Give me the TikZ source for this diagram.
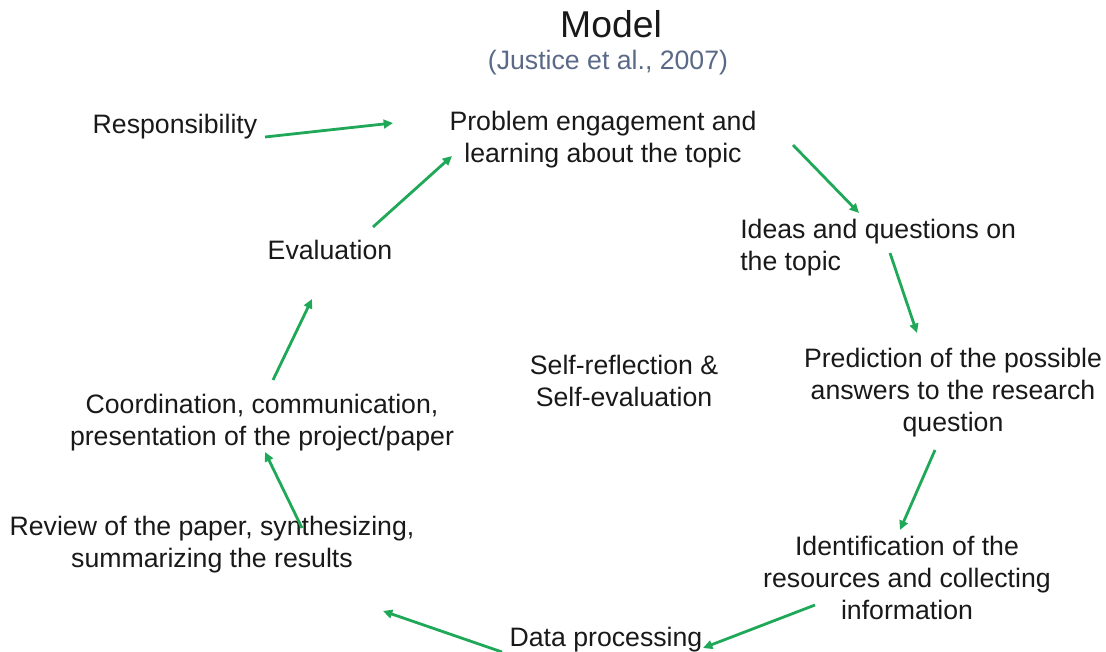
\documentclass[tikz,border=0pt]{standalone}
\usepackage{fontspec}
\setmainfont{Liberation Sans}
\usetikzlibrary{arrows.meta}
\definecolor{arrowgreen}{RGB}{30,168,88}
\definecolor{textdark}{RGB}{25,25,25}
\definecolor{citeblue}{RGB}{90,105,135}
\begin{document}
\begin{tikzpicture}[x=0.75pt,y=-0.75pt,
  lbl/.style={inner sep=0pt,text=textdark,align=center,font=\fontsize{20pt}{24pt}\selectfont},
  lblleft/.style={lbl,align=left},
  flow/.style={draw=arrowgreen,line width=2.1pt,-{Triangle[length=7pt,width=6.5pt]}}]
\useasboundingbox (0,0) rectangle (1106,652);
\node[inner sep=0pt,text=textdark,font=\fontsize{28pt}{32pt}\selectfont] (title) at (611,24) {Model};
\node[inner sep=0pt,text=citeblue,font=\fontsize{20pt}{24pt}\selectfont] (cite) at (608,63) {(Justice et al., 2007)};
\node[lbl] (resp) at (175,127) {Responsibility};
\node[lbl] (prob) at (603,140) {Problem engagement and\\learning about the topic};
\node[lblleft,anchor=west] (ideas) at (740,248) {Ideas and questions on\\the topic};
\node[lbl] (eval) at (330,250) {Evaluation};
\node[lbl] (self) at (624,381) {Self-reflection \&\\Self-evaluation};
\node[lbl] (pred) at (953,393) {Prediction of the possible\\answers to the research\\question};
\node[lbl] (coord) at (262,423) {Coordination, communication,\\presentation of the project/paper};
\node[lbl] (review) at (212,545) {Review of the paper, synthesizing,\\summarizing the results};
\node[lbl] (ident) at (907,578) {Identification of the\\resources and collecting\\information};
\node[lbl] (data) at (606,640) {Data processing};
\draw[flow] ([shift={(90,10)}]resp.center) -- ([shift={(-210,-17)}]prob.center);
\draw[flow] ([shift={(43,-23)}]eval.center) -- ([shift={(-151,16)}]prob.center);
\draw[flow] ([shift={(190,5)}]prob.center) -- ([shift={(119,-35)}]ideas.west);
\draw[flow] ([shift={(150,5)}]ideas.west) -- ([shift={(-36,-60)}]pred.center);
\draw[flow] ([shift={(-18,57)}]pred.center) -- ([shift={(-7,-48)}]ident.center);
\draw[flow] ([shift={(-92,27)}]ident.center) -- ([shift={(97,8)}]data.center);
\draw[flow] ([shift={(-104,12)}]data.center) -- ([shift={(171,66)}]review.center);
\draw[flow] ([shift={(90,-17)}]review.center) -- ([shift={(3,29)}]coord.center);
\draw[flow] ([shift={(11,-43)}]coord.center) -- ([shift={(-18,49)}]eval.center);
\end{tikzpicture}
\end{document}
